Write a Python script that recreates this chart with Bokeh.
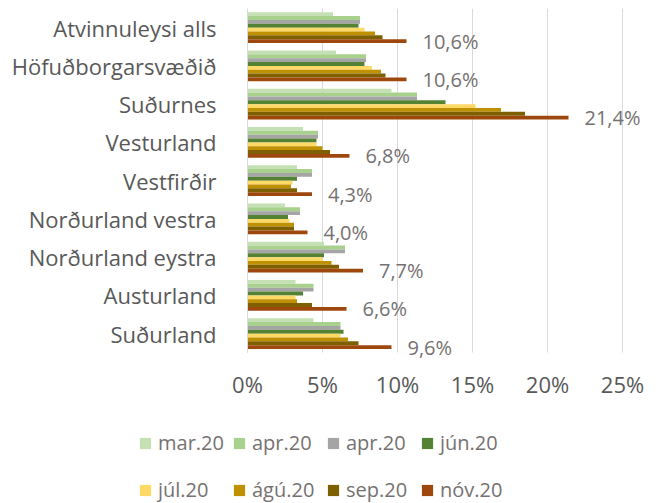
from bokeh.plotting import figure
from bokeh.models import (ColumnDataSource, Range1d, Legend, LegendItem,
                          FixedTicker, PrintfTickFormatter)
from bokeh.transform import dodge
from bokeh.core.properties import value
from bokeh.embed import file_html
from bokeh.resources import INLINE

categories = ["Atvinnuleysi alls", "Höfuðborgarsvæðið", "Suðurnes", "Vesturland",
              "Vestfirðir", "Norðurland vestra", "Norðurland eystra", "Austurland", "Suðurland"]
series_names = ["mar.20", "apr.20", "apr.20", "jún.20", "júl.20", "ágú.20", "sep.20", "nóv.20"]
mar20 = [5.7, 5.9, 9.6, 3.7, 3.3, 2.5, 5.1, 3.2, 4.4]
apr20 = [7.5, 7.9, 11.3, 4.7, 4.3, 3.5, 6.5, 4.4, 6.2]
apr20b = [7.5, 7.9, 11.3, 4.7, 4.3, 3.5, 6.5, 4.4, 6.2]
jun20 = [7.4, 7.8, 13.2, 4.6, 3.3, 2.7, 5.1, 3.7, 6.4]
jul20 = [7.8, 8.3, 15.2, 4.6, 3.0, 2.8, 5.0, 3.2, 6.2]
agu20 = [8.5, 8.9, 16.9, 5.0, 2.9, 3.1, 5.6, 3.3, 6.7]
sep20 = [9.0, 9.2, 18.5, 5.5, 3.3, 3.1, 6.1, 4.3, 7.4]
nov20 = [10.6, 10.6, 21.4, 6.8, 4.3, 4.0, 7.7, 6.6, 9.6]
x_ticks = [0, 5, 10, 15, 20, 25]
colors = ["#C5E0B4", "#A9D18E", "#A5A5A5", "#548235", "#FFD966", "#BF9000", "#7F6000", "#9E480E"]

series = [mar20, apr20, apr20b, jun20, jul20, agu20, sep20, nov20]
n = len(categories)
y_pos = list(range(n - 1, -1, -1))
data = {"cat": categories, "y": y_pos}
for i, s in enumerate(series):
    data["s%d" % i] = s
data["lab"] = [("%.1f%%" % v).replace(".", ",") for v in nov20]
src = ColumnDataSource(data)

FONT = "Open Sans"
TXT = "#595959"
TXT2 = "#767171"
GRID = "#D9D9D9"

# frame spans the whole canvas; 15 px per percent, 38.25 px per category band
p = figure(width=661, height=503, output_backend="svg", toolbar_location=None,
           x_range=Range1d(-16.4667, 27.2), y_range=Range1d(-4.441, n - 0.5),
           min_border_left=0, min_border_right=6, min_border_top=8, min_border_bottom=0)
p.outline_line_color = None

h = 0.101
renderers = []
for i in range(8):
    off = (3.5 - i) * h
    r = p.hbar(y=dodge("y", off), right="s%d" % i, left=0, height=h,
               source=src, fill_color=colors[i], line_color=None)
    renderers.append(r)

p.text(x="s7", y=dodge("y", -3.5 * h), text="lab", source=src,
       x_offset=16, text_baseline="middle", text_align="left",
       text_font=value(FONT), text_font_size="20px", text_color=TXT2)

# x axis (placed inside the canvas)
xa = p.xaxis[0]
xa.fixed_location = -0.8
xa.ticker = FixedTicker(ticks=x_ticks)
xa.formatter = PrintfTickFormatter(format="%d%%")
xa.axis_line_color = None
xa.major_tick_line_color = None
xa.major_tick_in = 0
xa.major_tick_out = 0
xa.minor_tick_line_color = None
xa.major_label_standoff = 5
xa.major_label_text_font = FONT
xa.major_label_text_font_size = "22px"
xa.major_label_text_color = TXT

# y axis (categories) at x = 0
ya = p.yaxis[0]
ya.fixed_location = 0
ya.ticker = FixedTicker(ticks=y_pos)
ya.major_label_overrides = {y: c for y, c in zip(y_pos, categories)}
ya.bounds = (-0.5, n - 0.5)
ya.axis_line_color = GRID
ya.major_tick_line_color = None
ya.minor_tick_line_color = None
ya.major_tick_in = 0
ya.major_tick_out = 0
ya.major_label_standoff = 31
ya.major_label_text_font = FONT
ya.major_label_text_font_size = "22px"
ya.major_label_text_color = TXT

xg = p.xgrid[0]
xg.ticker = FixedTicker(ticks=x_ticks)
xg.grid_line_color = GRID
if "cross_bounds" in xg.properties():
    xg.cross_bounds = (-0.5, n - 0.5)
p.ygrid.grid_line_color = None

def make_legend(idx, loc):
    items = [LegendItem(label=series_names[i], renderers=[renderers[i]]) for i in idx]
    return Legend(items=items, orientation="horizontal", location=loc,
                  glyph_width=14, glyph_height=14, label_standoff=6, label_width=70,
                  spacing=4, padding=0, margin=0, border_line_color=None,
                  background_fill_alpha=0, label_text_font=FONT,
                  label_text_font_size="20px", label_text_color=TXT2)

p.add_layout(make_legend([0, 1, 2, 3], (138, 47)), "center")
p.add_layout(make_legend([4, 5, 6, 7], (138, 0)), "center")

open("out.html", "w").write(file_html(p, INLINE))
